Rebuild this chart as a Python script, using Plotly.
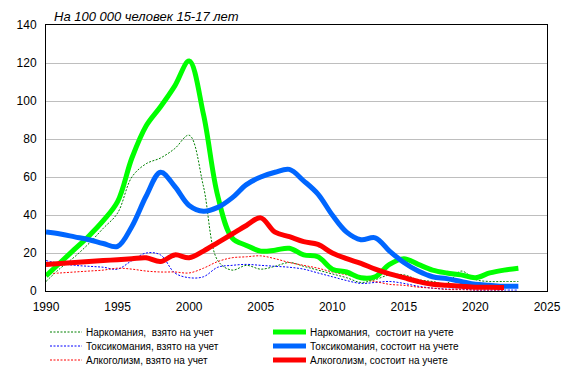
import plotly.graph_objects as go

years = list(range(1990, 2024))

narco_taken = [5, 12, 18, 25, 33, 41, 60, 67, 70, 75, 82, 55, 16, 11, 13.5, 11.5, 13, 15,
               13, 11, 9, 7, 4.5, 6, 8.5, 8.5, 6, 5, 4, 10.5, 6, 5, 5, 5]
toxi_taken = [16, 14.5, 13.5, 13, 12.5, 11.5, 16, 20, 19, 9.5, 7, 7.5, 12.5, 13.5, 14, 13.5, 13, 12.5,
              11.5, 9.5, 7.5, 5.5, 4, 4.5, 5, 4, 2.5, 1.5, 1, 1, 0.5, 0.5, 0.5, 0.5]
alco_taken = [9, 9.5, 10, 10.5, 11, 12, 11.5, 10.5, 10, 10, 9.5, 12, 15.5, 17.5, 18, 18.5, 17, 15,
              13.5, 12, 10, 8.5, 6.5, 5, 3.5, 3, 2, 1.5, 0.8, 0.7, 0.5, 0.5, 0.5, None]
narco_reg = [8, 15, 22, 29, 37, 47, 70, 87, 97, 108, 121, 93, 50, 28, 24, 21, 21.5, 22.5,
             19, 18, 11.5, 10, 7, 7.5, 14, 17, 14, 11, 9.5, 8.5, 7, 9.5, 11, 12]
toxi_reg = [31, 30, 28.5, 27, 25, 23.5, 34, 50, 62.5, 55, 45, 42, 44, 49, 56, 60, 62.5, 64,
            58, 51, 40, 31, 27, 28, 21, 15, 10.5, 7.5, 6.5, 5, 3.5, 3, 2.5, 2.5]
alco_reg = [14, 14.5, 15, 15.5, 16, 16.5, 17, 17.5, 15.5, 19, 17.5, 21, 25.5, 30, 34.5, 38.5, 31, 28.6,
            26, 24.5, 20, 17, 14.5, 11.5, 9, 7, 5, 3.5, 3, 2.5, 2, 2, 1.8, None]

x_ticks = [1990, 1995, 2000, 2005, 2010, 2015, 2020, 2025]
y_ticks = [0, 20, 40, 60, 80, 100, 120, 140]
title_text = "На 100 000 человек 15-17 лет"

taken_series = [
    ("Наркомания,  взято на учет", narco_taken, "#008000"),
    ("Токсикомания, взято на учет", toxi_taken, "#0000FF"),
    ("Алкоголизм, взято на учет", alco_taken, "#FF0000"),
]
reg_series = [
    ("Наркомания,  состоит на учете", narco_reg, "#00FF00"),
    ("Токсикомания, состоит на учете", toxi_reg, "#0066FF"),
    ("Алкоголизм, состоит на учете", alco_reg, "#FF0000"),
]

FONT = "Arial, Liberation Sans, sans-serif"
W, H = 577, 373
ML, MR, MT, MB = 46, 30, 25, 82
PW, PH = W - ML - MR, H - MT - MB

fig = go.Figure()
for name, vals, col in taken_series:
    fig.add_trace(go.Scatter(x=years, y=vals, mode="lines", name=name,
                             line=dict(color=col, width=1, dash="2px,1.5px", shape="spline", smoothing=1),
                             connectgaps=False, showlegend=False))
for name, vals, col in reg_series:
    fig.add_trace(go.Scatter(x=years, y=vals, mode="lines", name=name,
                             line=dict(color=col, width=5, shape="spline", smoothing=1),
                             connectgaps=False, showlegend=False))

def px_to_paper(px, py):
    return (px - ML) / PW, (H - MB - py) / PH

shapes, annotations = [], []
row_y = [332, 346, 360]
for col_def in [(taken_series, 50, 82, 84, 1, "2px,1.5px"), (reg_series, 273, 306, 308, 5, "solid")]:
    series, x0, x1, xt, lw, dash = col_def
    for (name, _, col), py in zip(series, row_y):
        px0, pyp = px_to_paper(x0, py)
        px1, _ = px_to_paper(x1, py)
        pxt, _ = px_to_paper(xt, py)
        shapes.append(dict(type="line", xref="paper", yref="paper", x0=px0, x1=px1, y0=pyp, y1=pyp,
                           line=dict(color=col, width=lw, dash=dash)))
        annotations.append(dict(xref="paper", yref="paper", x=pxt, y=pyp, xanchor="left", yanchor="middle",
                                text=name, showarrow=False, font=dict(family=FONT, size=10, color="black")))

tx, _ = px_to_paper(52, 0)
annotations.append(dict(xref="paper", yref="paper", x=tx, y=1, xanchor="left", yanchor="bottom",
                        text="<i>" + title_text + "</i>", showarrow=False, yshift=-1,
                        font=dict(family=FONT, size=13, color="black")))

fig.update_layout(
    width=W, height=H,
    margin=dict(l=ML, r=MR, t=MT, b=MB),
    paper_bgcolor="white", plot_bgcolor="white",
    font=dict(family=FONT, size=12, color="black"),
    shapes=shapes, annotations=annotations,
    xaxis=dict(range=[1990, 2025], tickvals=x_ticks, ticktext=[str(v) for v in x_ticks],
               showgrid=False, zeroline=False, showline=True, linecolor="black", linewidth=1,
               mirror=True, ticks="", tickfont=dict(size=12), ticklabelstandoff=5),
    yaxis=dict(range=[0, 140], tickvals=y_ticks, showgrid=True, gridcolor="#BEBEBE", gridwidth=1,
               zeroline=False, showline=True, linecolor="black", linewidth=1, mirror=True,
               ticks="", tickfont=dict(size=12), ticklabelstandoff=6),
    showlegend=False,
)

fig.write_html("out.html", config={"displayModeBar": False},
               post_script="document.body.style.margin='0px';document.body.style.overflow='hidden';")
